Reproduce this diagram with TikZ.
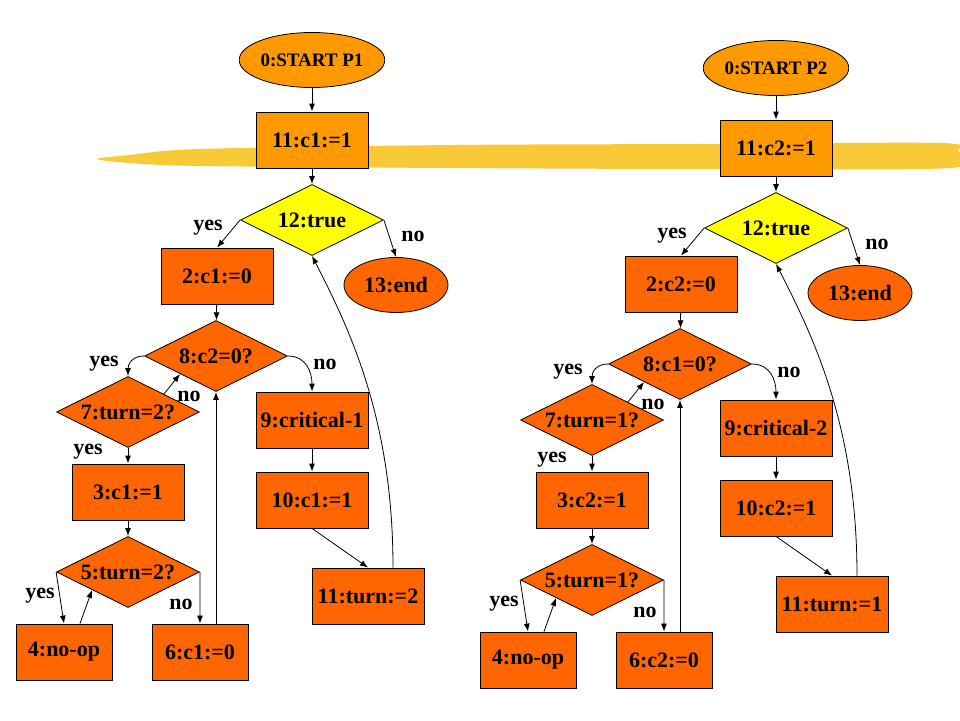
\documentclass[tikz,border=0pt]{standalone}
\usepackage{fontspec}
\setmainfont{Liberation Serif}
\usetikzlibrary{arrows.meta,shapes.geometric}

\definecolor{lightorange}{HTML}{FF9900}
\definecolor{darkorange}{HTML}{FF6600}
\definecolor{trueyellow}{HTML}{FFFF00}
\definecolor{marker}{HTML}{F8CA38}

\tikzset{
  txt/.style={font=\fontsize{22}{26}\selectfont\bfseries},
  box/.style={txt,rectangle,draw=black,line width=0.8pt,fill=darkorange,
    minimum width=112pt,minimum height=56pt,inner sep=0pt},
  smallbox/.style={box,minimum width=96pt},
  decision/.style={txt,diamond,aspect=2,draw=black,line width=0.8pt,fill=darkorange,
    minimum width=143pt,minimum height=71pt,inner sep=0pt},
  terminal/.style={txt,ellipse,draw=black,line width=0.8pt,fill=darkorange,
    minimum width=104pt,minimum height=55pt,inner sep=0pt},
  lbl/.style={txt,inner sep=0pt},
  flow/.style={-{Latex[length=8pt,width=6pt]},line width=0.8pt},
}

\begin{document}
\begin{tikzpicture}[%
x={(1pt,0pt)},
y={(0pt,-1pt)},
]
\useasboundingbox (0,0) rectangle (960,720);

%Markerstrich
\fill[marker] plot[smooth cycle] coordinates {(97,159) (130,155) (200,149) (450,145)
  (700,144) (940,143) (958,151) (951,168) (700,169) (450,168) (200,166) (130,163)};

\foreach \p/\q/\sx/\sy in {1/2/0/0, 2/1/464/8} {
\begin{scope}[shift={(\sx,\sy)}]

%Knoten
\node[terminal,fill=lightorange,minimum width=111pt,
  font=\fontsize{19}{23}\selectfont\bfseries](start\p) at (312,60){0:START P\p};
\node[box,fill=lightorange](setc\p) at (312,140){11:c\p:=1};
\node[decision,fill=trueyellow](loop\p) at (312,220){12:true};
\node[box](clr\p) at (217,276){2:c\p:=0};
\node[terminal](end\p) at (396,285){13:end};
\node[decision](test\p) at (216,356){8:c\q=0?};
\node[decision](turnA\p) at (128,412){7:turn=\q?};
\node[box](set\p) at (128,492){3:c\p:=1};
\node[decision](turnB\p) at (128,572){5:turn=\q?};
\node[smallbox](noop\p) at (64,652){4:no-op};
\node[smallbox](reset\p) at (200,652){6:c\p:=0};
\node[box](crit\p) at (312,420){9:critical-\p};
\node[box](rel\p) at (312,500){10:c\p:=1};
\node[box](give\p) at (368,596){11:turn:=\q};

%Kanten
\draw[flow] (start\p) -- (setc\p);
\draw[flow] (setc\p) -- (loop\p);
\draw[flow] (loop\p.west) -- (clr\p.north);
\draw[flow] (loop\p.east) -- (end\p.north);
\draw[flow] (clr\p) -- (test\p);
\draw[flow] (test\p.west) .. controls +(-12,0) and +(0,-12) .. (turnA\p.north);
\draw[flow] (turnA\p.north east) -- (test\p.south west);
\draw[flow] (turnA\p) -- (set\p);
\draw[flow] (set\p) -- (turnB\p);
\draw[flow] (turnB\p.west) -- (noop\p.north);
\draw[flow] ([xshift=16pt]noop\p.north) -- (turnB\p.south west);
\draw[flow] (turnB\p.east) -- (reset\p.north);
\draw[flow] (test\p.south |- reset\p.north) -- (test\p.south);
\draw[flow] (test\p.east) .. controls +(18,0) and +(0,-20) .. (crit\p.north);
\draw[flow] (crit\p) -- (rel\p);
\draw[flow] (rel\p.south) -- (give\p.north);
\draw[flow] ([xshift=25pt]give\p.north) .. controls +(0,-148) and +(38,74) .. (loop\p.south);

%Beschriftung
\node[lbl](yesA\p) at (208,228){yes};
\node[lbl](noA\p) at (413,236){no};
\node[lbl](yesB\p) at (104,364){yes};
\node[lbl](noB\p) at (189,396){no};
\node[lbl](noC\p) at (325,364){no};
\node[lbl](yesC\p) at (88,452){yes};
\node[lbl](yesD\p) at (40,596){yes};
\node[lbl](noD\p) at (181,604){no};

\end{scope}
}

\end{tikzpicture}
\end{document}
